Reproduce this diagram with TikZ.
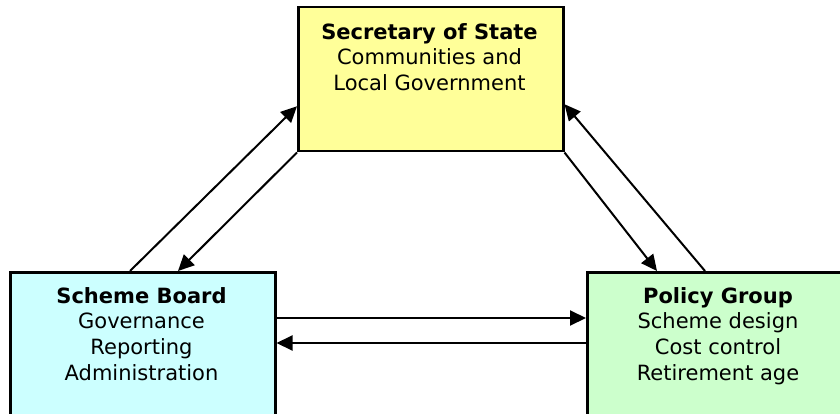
\documentclass[tikz,border=0pt]{standalone}
\usepackage{fontspec}
\setmainfont{DejaVu Sans}
\usetikzlibrary{arrows.meta,calc}
\definecolor{sosfill}{HTML}{FFFF99}
\definecolor{sbfill}{HTML}{CCFFFF}
\definecolor{pgfillc}{HTML}{CCFFCC}
\begin{document}
\begin{tikzpicture}[x=1pt,y=-1pt,
  box/.style={draw=black,line width=2.5pt,rectangle,inner sep=0pt,anchor=north west},
  boxtext/.style={align=center,inner sep=0pt,anchor=north,font=\fontsize{21}{25.7}\selectfont},
  arr/.style={draw=black,line width=2pt,-{Triangle[length=16pt,width=15pt]}}]
\path[use as bounding box,clip] (0,0) rectangle (840,414);
\fill[white] (0,0) rectangle (840,414);
\node[box,fill=sosfill,minimum width=265pt,minimum height=144pt] (sos) at (297,6) {};
\node[box,fill=sbfill,minimum width=265pt,minimum height=150pt] (sb) at (9,271) {};
\node[box,fill=pgfillc,minimum width=264pt,minimum height=150pt] (pg) at (586,271) {};
\node[boxtext] (sostext) at (429.5,23) {\textbf{Secretary of State}\\Communities and\\Local Government};
\node[boxtext] (sbtext) at (141.5,287) {\textbf{Scheme Board}\\Governance\\Reporting\\Administration};
\node[boxtext] (pgtext) at (718,287) {\textbf{Policy Group}\\Scheme design\\Cost control\\Retirement age};
\draw[arr] ([xshift=121pt]sb.north west) -- ([yshift=-27pt]sos.west);
\draw[arr] (sos.south west) -- ([xshift=169pt]sb.north west);
\draw[arr] (sos.south east) -- ([xshift=71pt]pg.north west);
\draw[arr] ([xshift=119pt]pg.north west) -- ([yshift=-25pt]sos.east);
\draw[arr] ([yshift=-47pt]sb.north east) -- ([yshift=-47pt]pg.north west);
\draw[arr] ([yshift=-72pt]pg.north west) -- ([yshift=-72pt]sb.north east);
\end{tikzpicture}
\end{document}
